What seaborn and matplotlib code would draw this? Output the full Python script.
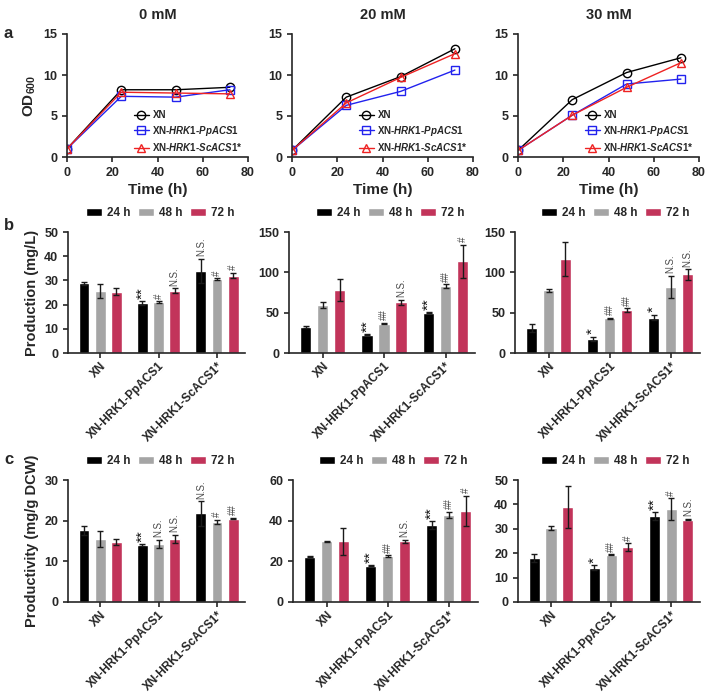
import matplotlib
matplotlib.use('Agg')
import pandas as pd
import matplotlib.pyplot as plt
import seaborn as sns

# ---- data ----
concs = ['0 mM', '20 mM', '30 mM']
strains = ['XN', 'XN-HRK1-PpACS1', 'XN-HRK1-ScACS1*']
times_od = [0, 24, 48, 72]
times_bar = ['24 h', '48 h', '72 h']

# OD600 growth curves, one list per concentration
od_xn = [[1.0, 8.2, 8.2, 8.5], [0.8, 7.3, 9.8, 13.2], [0.8, 7.0, 10.3, 12.1]]
od_pp = [[1.0, 7.4, 7.3, 8.2], [0.8, 6.3, 8.0, 10.6], [0.8, 5.1, 8.9, 9.5]]
od_sc = [[1.0, 7.9, 7.8, 7.7], [0.8, 6.6, 9.7, 12.6], [0.8, 5.1, 8.5, 11.5]]

# Production (mg/L): [concentration][strain][time]
prod_mean = [
    [[28.9, 25.7, 25.4], [20.7, 21.0, 25.8], [34.0, 30.5, 32.0]],
    [[32.5, 59.5, 78.0], [22.5, 36.5, 63.0], [50.0, 83.0, 113.5]],
    [[31.0, 77.5, 117.0], [17.5, 43.0, 53.0], [44.0, 82.0, 97.5]],
]
prod_sd = [
    [[0.6, 3.0, 1.5], [0.8, 0.5, 1.0], [5.0, 0.5, 1.2]],
    [[1.0, 4.0, 14.0], [0.5, 1.0, 3.0], [0.8, 2.0, 21.0]],
    [[5.0, 2.0, 21.0], [2.5, 1.0, 2.5], [3.5, 14.0, 6.5]],
]
prod_marks = [
    [['', '', ''], ['**', '#', 'N.S.'], ['N.S.', '#', '#']],
    [['', '', ''], ['**', '##', 'N.S.'], ['**', '##', '#']],
    [['', '', ''], ['*', '##', '##'], ['*', 'N.S.', 'N.S.']],
]

# Productivity (mg/g DCW)
pdv_mean = [
    [[17.6, 15.5, 14.8], [14.0, 14.3, 15.5], [21.8, 19.7, 20.5]],
    [[22.3, 29.8, 29.8], [17.8, 22.7, 29.8], [37.8, 42.8, 44.7]],
    [[18.0, 30.4, 39.0], [14.1, 19.4, 22.5], [35.2, 38.1, 33.8]],
]
pdv_sd = [
    [[1.1, 2.0, 0.8], [0.2, 1.0, 1.0], [3.0, 0.5, 0.2]],
    [[0.3, 0.3, 6.5], [0.3, 0.4, 0.8], [1.8, 1.5, 7.5]],
    [[1.5, 0.8, 8.5], [1.0, 0.2, 1.5], [1.5, 4.5, 0.3]],
]
pdv_marks = [
    [['', '', ''], ['**', 'N.S.', 'N.S.'], ['N.S.', '#', '##']],
    [['', '', ''], ['**', '##', 'N.S.'], ['**', '##', '#']],
    [['', '', ''], ['*', '##', '#'], ['**', '#', 'N.S.']],
]

prod_ylim = [(50, 10), (150, 50), (150, 50)]
pdv_ylim = [(30, 10), (60, 20), (50, 10)]

line_colors = ['black', '#2222ee', '#ee2222']
bar_colors = ['#000000', '#a5a5a5', '#c2345a']
legend_labels = ['XN', 'XN-$\\mathit{HRK1}$-$\\mathit{PpACS1}$',
                 'XN-$\\mathit{HRK1}$-$\\mathit{ScACS1}$*']

sns.set_style('ticks')
plt.rcParams['font.family'] = ['Liberation Sans', 'DejaVu Sans']
plt.rcParams['font.weight'] = 'bold'
plt.rcParams['axes.labelweight'] = 'bold'
plt.rcParams['mathtext.fontset'] = 'custom'
plt.rcParams['mathtext.rm'] = 'Liberation Sans:bold'
plt.rcParams['mathtext.bf'] = 'Liberation Sans:bold'
plt.rcParams['mathtext.it'] = 'Liberation Sans:italic:bold'

W, H = 708, 693
fig = plt.figure(figsize=(W / 100, H / 100), dpi=100)


def add_ax(left, top, width, bottom):
    return fig.add_axes([left / W, 1 - bottom / H, width / W, (bottom - top) / H])


def style_ax(ax):
    for s in ['top', 'right']:
        ax.spines[s].set_visible(False)
    for s in ['left', 'bottom']:
        ax.spines[s].set_linewidth(1.2)
    ax.tick_params(direction='out', length=3.5, width=1.2, labelsize=9)


# ---- row a: growth curves ----
a_left = [67, 292, 518]
for i, conc in enumerate(concs):
    ax = add_ax(a_left[i], 34, 181, 157)
    df = pd.DataFrame({
        'time': times_od * 3,
        'od': od_xn[i] + od_pp[i] + od_sc[i],
        'strain': [s for s in strains for _ in times_od],
    })
    sns.lineplot(data=df, x='time', y='od', hue='strain', style='strain',
                 hue_order=strains, style_order=strains,
                 markers=['o', 's', '^'], dashes=False, palette=line_colors,
                 errorbar=None, legend=False, linewidth=1, markersize=6, ax=ax)
    for line, c in zip(ax.lines, line_colors):
        line.set_markerfacecolor('none')
        line.set_markeredgecolor(c)
        line.set_markeredgewidth(1)
    ax.legend(ax.lines, legend_labels, loc='lower right', bbox_to_anchor=(1.02, -0.04),
              frameon=False, fontsize=7, handlelength=1.5, handletextpad=0.4,
              labelspacing=0.35)
    ax.set_xlim(0, 80)
    ax.set_ylim(0, 15)
    ax.set_xticks([0, 20, 40, 60, 80])
    ax.set_yticks([0, 5, 10, 15])
    ax.set_xlabel('Time (h)', fontsize=11, labelpad=3)
    ax.set_ylabel('OD$_{600}$' if i == 0 else '', fontsize=11)
    ax.set_title(conc, fontsize=10.5, fontweight='bold', pad=11)
    style_ax(ax)


def bar_panel(ax, means, sds, marks, ylim, ylabel):
    df = pd.DataFrame({
        'strain': [s for s in strains for _ in times_bar],
        'time': times_bar * 3,
        'value': [v for row in means for v in row],
    })
    sns.barplot(data=df, x='strain', y='value', hue='time', order=strains,
                hue_order=times_bar, palette=bar_colors, saturation=1,
                width=0.83, gap=0.33, errorbar=None, ax=ax)
    ymax, step = ylim
    bar_groups = list(ax.containers)
    for h, cont in enumerate(bar_groups):
        for j, bar in enumerate(cont.patches):
            x = bar.get_x() + bar.get_width() / 2
            top = bar.get_height()
            sd = sds[j][h]
            ax.errorbar(x, top, yerr=sd, fmt='none', ecolor='#1a1a1a',
                        elinewidth=1, capsize=2.5, capthick=1)
            m = marks[j][h]
            if m:
                is_star = m.startswith('*')
                ax.text(x, top + sd + ymax * 0.02, m, rotation=90,
                        ha='center', va='bottom',
                        fontsize=11 if is_star else 7,
                        color='#111111' if is_star else '#4a4a4a',
                        fontweight='normal')
    sns.move_legend(ax, 'lower right', bbox_to_anchor=(1.0, 1.02), ncol=3,
                    frameon=False, title=None, fontsize=8.5, handlelength=1.4,
                    handleheight=0.6, columnspacing=0.6, handletextpad=0.4)
    ax.set_xlim(-0.55, 2.48)
    ax.set_ylim(0, ymax)
    ax.set_yticks(range(0, ymax + 1, step))
    ax.set_xlabel('')
    ax.set_ylabel(ylabel, fontsize=10.5)
    style_ax(ax)
    ax.tick_params(axis='x', labelsize=8.5, pad=1.5)
    for lab in ax.get_xticklabels():
        lab.set_rotation(45)
        lab.set_ha('right')
        lab.set_rotation_mode('anchor')


# ---- row b: production ----
b_left = [68, 289, 515]
b_width = [177, 186, 185]
for i in range(3):
    ax = add_ax(b_left[i], 232, b_width[i], 353)
    bar_panel(ax, prod_mean[i], prod_sd[i], prod_marks[i], prod_ylim[i],
              'Production (mg/L)' if i == 0 else '')

# ---- row c: productivity ----
c_left = [68, 293, 518]
c_width = [177, 185, 182]
for i in range(3):
    ax = add_ax(c_left[i], 480, c_width[i], 602)
    bar_panel(ax, pdv_mean[i], pdv_sd[i], pdv_marks[i], pdv_ylim[i],
              'Productivity (mg/g DCW)' if i == 0 else '')

for letter, ypx in [('a', 38), ('b', 230), ('c', 464)]:
    fig.text(4 / W, 1 - ypx / H, letter, fontsize=12, fontweight='bold')

fig.savefig('out.png', dpi=100)
